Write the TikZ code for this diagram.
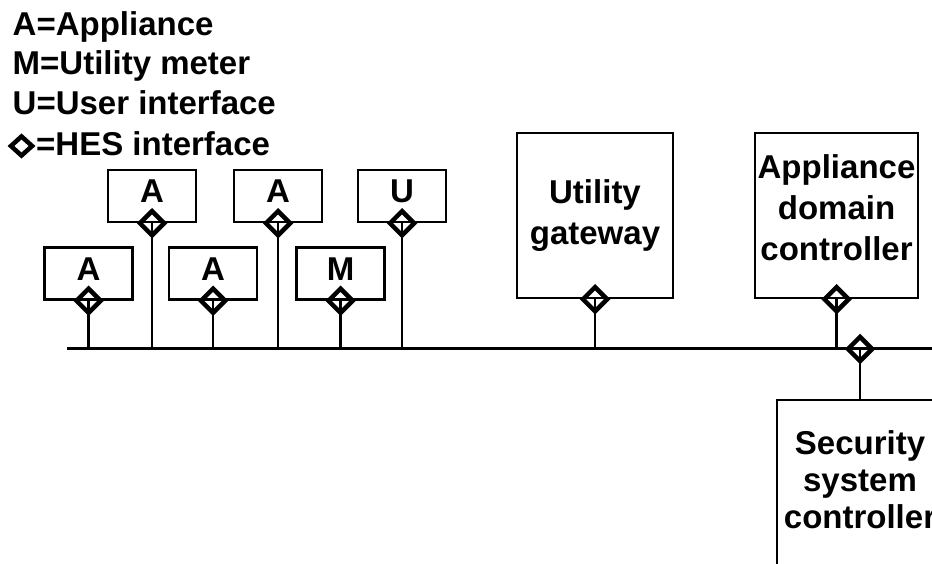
\documentclass[tikz,border=0pt]{standalone}
\usepackage{fontspec}
\setmainfont{Liberation Sans}
\usetikzlibrary{positioning,shapes.geometric}

\begin{document}
\begin{tikzpicture}[
    x=1pt, y=1pt,
    font=\fontsize{33}{41}\selectfont\bfseries,
    box/.style={draw, rectangle, line width=2.5pt, inner sep=1pt, align=center},
    dev/.style={box, minimum width=88pt, minimum height=52pt, text depth=9pt},
    ctrl/.style={box, minimum height=165pt},
    hes/.style={draw, diamond, line width=4.5pt, inner sep=0pt,
                minimum width=26pt, minimum height=26pt},
    stub/.style={line width=2.5pt},
    bus/.style={line width=3pt},
    key/.style={anchor=base west, inner sep=0pt}
  ]
  \useasboundingbox (0,0) rectangle (932,563);

  % ===== legend =====
  \node[key] (keyA) at (12.5,527) {A=Appliance};
  \node[key] (keyM) at (12.5,488) {M=Utility meter};
  \node[key] (keyU) at (12.5,448) {U=User interface};
  \node[hes, minimum width=23pt, minimum height=21pt] (keyD) at (21.5,417) {};
  \node[key] (keyH) at (36,407) {=HES interface};

  % ===== home bus =====
  \coordinate (busL) at (67,214);
  \coordinate (busR) at (940,214);
  \draw[bus] (busL) -- (busR);

  % ===== devices on the bus =====
  \node[dev] (a1) at (88.5,289.5) {A};
  \node[dev] (a2) at (152,367) {A};
  \node[dev] (a3) at (213,289.5) {A};
  \node[dev] (a4) at (278,367) {A};
  \node[dev] (m1) at (340.5,289.5) {M};
  \node[dev] (u1) at (402,367) {U};

  \node[ctrl, minimum width=156pt] (gw) at (595,347.5) {Utility\\gateway};
  \node[ctrl, minimum width=163pt, text depth=15pt] (adc) at (836.5,347.5)
    {Appliance\\domain\\controller};

  \foreach \n in {a1,a2,a3,a4,m1,u1,gw,adc} {
    \draw[stub] (\n.south) -- (\n.south |- busL);
    \node[hes] (\n-hes) at (\n.south) {};
  }

  % ===== security controller below the bus =====
  \node[box, minimum width=166pt, minimum height=180pt, text depth=20pt,
        font=\fontsize{33}{37}\selectfont\bfseries] (ssc) at (860,73)
    {Security\\system\\controller};
  \node[hes] (ssc-hes) at (ssc.north |- busL) {};
  \draw[stub] (ssc.north) -- (ssc-hes.center);

\end{tikzpicture}
\end{document}
